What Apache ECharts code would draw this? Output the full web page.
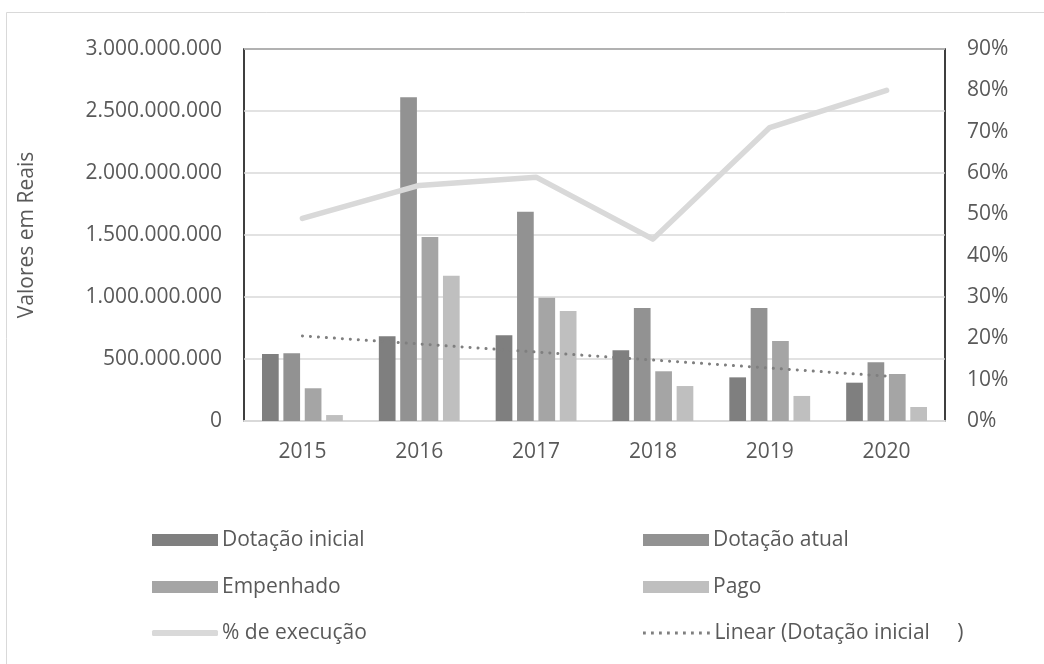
<!DOCTYPE html>
<html>
<head>
<meta charset="utf-8">
<script src="https://cdn.jsdelivr.net/npm/echarts@6/dist/echarts.min.js"></script>
<style>
  html, body { margin: 0; padding: 0; background: #fff; }
  #chart { width: 1044px; height: 664px; }
</style>
</head>
<body>
<div id="chart"></div>
<script>
// Anos do período
const anos = ['2015', '2016', '2017', '2018', '2019', '2020'];

// Valores em reais
const dotacaoInicial = [540e6, 683e6, 691e6, 570e6, 352e6, 309e6];
const dotacaoAtual   = [546e6, 2610e6, 1688e6, 911e6, 911e6, 473e6];
const empenhado      = [264e6, 1484e6, 994e6, 401e6, 645e6, 379e6];
const pago           = [48e6, 1172e6, 887e6, 282e6, 202e6, 113e6];

// Percentual de execução (%)
const execucao = [49, 57, 59, 44, 71, 80];

// Linha de tendência linear (mínimos quadrados) da dotação inicial
function tendenciaLinear(ys) {
  const n = ys.length;
  const xs = ys.map((_, i) => i + 1);
  const mx = xs.reduce((a, b) => a + b, 0) / n;
  const my = ys.reduce((a, b) => a + b, 0) / n;
  let sxy = 0, sxx = 0;
  for (let i = 0; i < n; i++) {
    sxy += (xs[i] - mx) * (ys[i] - my);
    sxx += (xs[i] - mx) * (xs[i] - mx);
  }
  const b = sxy / sxx;
  const a = my - b * mx;
  return xs.map(x => a + b * x);
}
const tendencia = tendenciaLinear(dotacaoInicial);

const FONT = 'Open Sans';
const TXT = '#595959';
const NOME_TENDENCIA = 'Linear (Dotação inicial     )';

function milhar(v) {
  return String(Math.round(v)).replace(/\B(?=(\d{3})+(?!\d))/g, '.');
}

// Ícone pontilhado para a legenda da tendência
let pontos = '';
for (let i = 0; i < 9; i++) {
  const x = i * 8;
  pontos += 'M' + x + ' 0h2.8v2.8h-' + '2.8z';
}
const ICONE_PONTOS = 'path://' + pontos;

const chart = echarts.init(document.getElementById('chart'), null, { renderer: 'canvas' });

function legenda(nome, left, top, icone, altura) {
  return {
    data: [{ name: nome, icon: icone }],
    left: left,
    top: top,
    padding: 0,
    itemWidth: icone === ICONE_PONTOS ? 68 : 66,
    itemHeight: altura,
    itemGap: 0,
    selectedMode: false,
    textStyle: { fontFamily: FONT, fontSize: 21, color: TXT, lineHeight: 24, padding: [0, 0, 0, -1] }
  };
}

const barBase = {
  type: 'bar',
  barWidth: 16.7,
  barGap: '28%',
  yAxisIndex: 0
};

chart.setOption({
  animation: false,
  backgroundColor: '#fff',
  graphic: [{
    type: 'rect',
    shape: { x: 6.5, y: 12.5, width: 1100, height: 700 },
    style: { fill: 'none', stroke: '#d9d9d9', lineWidth: 1 },
    silent: true
  }],
  grid: {
    left: 244, right: 99, top: 49, bottom: 243,
    show: true, borderColor: '#000', borderWidth: 1.5, backgroundColor: 'transparent'
  },
  legend: [
    legenda('Dotação inicial', 152, 528, 'rect', 12),
    legenda('Dotação atual', 643, 528, 'rect', 12),
    legenda('Empenhado', 152, 575, 'rect', 12),
    legenda('Pago', 643, 575, 'rect', 12),
    legenda('% de execução', 152, 621, 'roundRect', 6),
    legenda(NOME_TENDENCIA, 643, 621, ICONE_PONTOS, 2.8)
  ],
  xAxis: {
    type: 'category',
    data: anos,
    axisLine: { show: true, lineStyle: { color: '#d9d9d9', width: 2 } },
    axisTick: { show: false },
    axisLabel: { fontFamily: FONT, fontSize: 21, color: TXT, margin: 21 }
  },
  yAxis: [{
    type: 'value',
    min: 0, max: 3000000000, interval: 500000000,
    name: 'Valores em Reais',
    nameLocation: 'middle',
    nameRotate: 90,
    nameGap: 206,
    nameTextStyle: { fontFamily: FONT, fontSize: 21, color: TXT },
    axisLine: { show: false },
    axisTick: { show: false },
    axisLabel: { fontFamily: FONT, fontSize: 21, color: TXT, margin: 22, formatter: milhar },
    splitLine: { show: true, lineStyle: { color: '#d9d9d9', width: 1.5 } }
  }, {
    type: 'value',
    min: 0, max: 90, interval: 10,
    position: 'right',
    axisLine: { show: false },
    axisTick: { show: false },
    axisLabel: { fontFamily: FONT, fontSize: 21, color: TXT, margin: 22, formatter: v => v + '%' },
    splitLine: { show: false }
  }],
  series: [
    Object.assign({}, barBase, { name: 'Dotação inicial', data: dotacaoInicial, itemStyle: { color: '#7f7f7f' } }),
    Object.assign({}, barBase, { name: 'Dotação atual', data: dotacaoAtual, itemStyle: { color: '#929292' } }),
    Object.assign({}, barBase, { name: 'Empenhado', data: empenhado, itemStyle: { color: '#a5a5a5' } }),
    Object.assign({}, barBase, { name: 'Pago', data: pago, itemStyle: { color: '#bfbfbf' } }),
    {
      name: '% de execução',
      type: 'line',
      yAxisIndex: 1,
      data: execucao,
      symbol: 'none',
      z: 5,
      lineStyle: { color: '#d9d9d9', width: 5.5, cap: 'round', join: 'round' },
      itemStyle: { color: '#d9d9d9' }
    },
    {
      name: NOME_TENDENCIA,
      type: 'line',
      yAxisIndex: 0,
      data: tendencia,
      symbol: 'none',
      z: 6,
      lineStyle: { color: '#7f7f7f', width: 3, type: [0.1, 7.9], cap: 'round' },
      itemStyle: { color: '#7f7f7f' }
    }
  ]
});
</script>
</body>
</html>
